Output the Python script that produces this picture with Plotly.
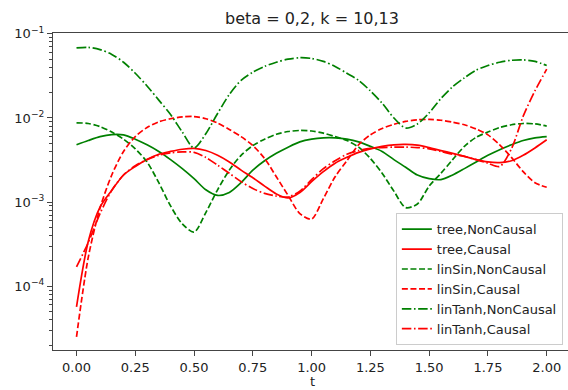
import plotly.graph_objects as go

t = [round(0.05 * i, 2) for i in range(41)]

tree_noncausal = [4.8e-3, 5.4e-3, 6.0e-3, 6.35e-3, 6.3e-3, 5.6e-3, 4.8e-3, 4.0e-3, 3.2e-3, 2.5e-3,
                  1.9e-3, 1.4e-3, 1.2e-3, 1.3e-3, 1.7e-3, 2.4e-3, 3.1e-3, 3.8e-3, 4.5e-3, 5.2e-3,
                  5.6e-3, 5.8e-3, 5.8e-3, 5.6e-3, 5.2e-3, 4.6e-3, 4.0e-3, 3.2e-3, 2.6e-3, 2.1e-3,
                  1.9e-3, 1.85e-3, 2.1e-3, 2.5e-3, 3.0e-3, 3.6e-3, 4.2e-3, 4.8e-3, 5.4e-3, 5.8e-3,
                  6.0e-3]
tree_causal = [5.7e-5, 3.4e-4, 8.7e-4, 1.38e-3, 2.1e-3, 2.65e-3, 3.2e-3, 3.7e-3, 4.0e-3, 4.25e-3,
               4.35e-3, 4.1e-3, 3.6e-3, 3.0e-3, 2.4e-3, 1.95e-3, 1.55e-3, 1.25e-3, 1.12e-3, 1.3e-3,
               1.75e-3, 2.3e-3, 2.9e-3, 3.4e-3, 3.9e-3, 4.3e-3, 4.6e-3, 4.8e-3, 4.85e-3, 4.75e-3,
               4.45e-3, 4.1e-3, 3.8e-3, 3.5e-3, 3.2e-3, 3.0e-3, 2.95e-3, 3.1e-3, 3.6e-3, 4.4e-3,
               5.5e-3]
linsin_noncausal = [8.75e-3, 8.6e-3, 7.9e-3, 6.8e-3, 5.6e-3, 4.3e-3, 3.0e-3, 1.7e-3, 9.0e-4, 5.5e-4,
                    4.4e-4, 7.5e-4, 1.4e-3, 2.4e-3, 3.6e-3, 4.7e-3, 5.6e-3, 6.4e-3, 6.9e-3, 7.1e-3,
                    7.0e-3, 6.6e-3, 6.0e-3, 5.4e-3, 4.5e-3, 3.3e-3, 2.2e-3, 1.35e-3, 8.6e-4, 9.5e-4,
                    1.55e-3, 2.2e-3, 3.2e-3, 4.6e-3, 5.9e-3, 6.8e-3, 7.7e-3, 8.3e-3, 8.6e-3, 8.5e-3,
                    8.0e-3]
linsin_causal = [2.5e-5, 2.2e-4, 8.5e-4, 2.1e-3, 4.0e-3, 6.0e-3, 7.7e-3, 9.0e-3, 9.8e-3, 1.03e-2,
                 1.04e-2, 9.8e-3, 8.7e-3, 7.3e-3, 6.0e-3, 4.7e-3, 3.3e-3, 2.0e-3, 1.2e-3, 7.3e-4,
                 6.3e-4, 1.1e-3, 2.0e-3, 3.1e-3, 4.8e-3, 6.3e-3, 7.5e-3, 8.4e-3, 9.1e-3, 9.5e-3,
                 9.6e-3, 9.4e-3, 8.9e-3, 8.3e-3, 7.4e-3, 6.3e-3, 4.8e-3, 3.4e-3, 2.3e-3, 1.7e-3,
                 1.5e-3]
lintanh_noncausal = [6.8e-2, 6.9e-2, 6.5e-2, 5.7e-2, 4.6e-2, 3.4e-2, 2.4e-2, 1.63e-2, 1.1e-2, 6.8e-3,
                     4.4e-3, 6.5e-3, 1.13e-2, 1.9e-2, 2.8e-2, 3.5e-2, 4.1e-2, 4.6e-2, 5.0e-2, 5.2e-2,
                     5.1e-2, 4.7e-2, 4.1e-2, 3.4e-2, 2.8e-2, 2.1e-2, 1.5e-2, 1.0e-2, 7.6e-3, 8.5e-3,
                     1.15e-2, 1.7e-2, 2.35e-2, 3.0e-2, 3.7e-2, 4.2e-2, 4.6e-2, 4.85e-2, 4.9e-2, 4.7e-2,
                     4.2e-2]
lintanh_causal = [1.7e-4, 3.3e-4, 7.3e-4, 1.38e-3, 2.1e-3, 2.7e-3, 3.2e-3, 3.6e-3, 3.85e-3, 3.95e-3,
                  3.9e-3, 3.4e-3, 2.75e-3, 2.2e-3, 1.75e-3, 1.45e-3, 1.27e-3, 1.18e-3, 1.15e-3, 1.35e-3,
                  1.85e-3, 2.5e-3, 3.1e-3, 3.7e-3, 4.1e-3, 4.35e-3, 4.45e-3, 4.5e-3, 4.5e-3, 4.45e-3,
                  4.3e-3, 4.0e-3, 3.7e-3, 3.5e-3, 3.2e-3, 2.9e-3, 2.65e-3, 4.3e-3, 1.05e-2, 2.1e-2,
                  3.8e-2]

series = [
    ("tree,NonCausal", tree_noncausal, "green", "solid"),
    ("tree,Causal", tree_causal, "red", "solid"),
    ("linSin,NonCausal", linsin_noncausal, "green", "6px,2.6px"),
    ("linSin,Causal", linsin_causal, "red", "6px,2.6px"),
    ("linTanh,NonCausal", lintanh_noncausal, "green", "9.5px,2.6px,1.6px,2.6px"),
    ("linTanh,Causal", lintanh_causal, "red", "9.5px,2.6px,1.6px,2.6px"),
]

major_y = [1e-4, 1e-3, 1e-2, 1e-1]
major_y_text = ["10<sup>\u22124</sup>", "10<sup>\u22123</sup>", "10<sup>\u22122</sup>", "10<sup>\u22121</sup>"]
minor_y = [m * 10.0 ** e for e in range(-5, -1) for m in range(2, 10)]

fig = go.Figure()
for name, vals, color, dash in series:
    fig.add_trace(go.Scatter(x=t, y=vals, mode="lines", name=name,
                             line=dict(color=color, width=1.7, dash=dash, shape="spline", smoothing=0.8)))

font = dict(family="DejaVu Sans", size=13, color="#222222")
fig.update_layout(
    width=568, height=390,
    margin=dict(l=53, r=0, t=33, b=40),
    paper_bgcolor="white", plot_bgcolor="white",
    font=font,
    showlegend=True,
    title=dict(text="beta = 0,2, k = 10,13", x=312 / 568, xref="container", xanchor="center",
               y=1 - 18 / 390, yref="container", yanchor="middle",
               font=dict(family="DejaVu Sans", size=16, color="#222222")),
    legend=dict(x=0.99, xanchor="right", y=0.015, yanchor="bottom",
                bgcolor="rgba(255,255,255,0.8)", bordercolor="#cccccc", borderwidth=1,
                font=dict(family="DejaVu Sans", size=13, color="#222222")),
    annotations=[dict(text="t", xref="paper", yref="paper", x=(312 - 53) / 515, y=-(381 - 350) / 317,
                      xanchor="center", yanchor="middle", showarrow=False,
                      font=dict(family="DejaVu Sans", size=13, color="#222222"))],
)
fig.update_xaxes(range=[-0.1, 2.0906], tickmode="array", tickvals=[0, 0.25, 0.5, 0.75, 1.0, 1.25, 1.5, 1.75, 2.0],
                 ticktext=["0.00", "0.25", "0.50", "0.75", "1.00", "1.25", "1.50", "1.75", "2.00"],
                 showgrid=False, zeroline=False, showline=True, linecolor="#444444", linewidth=1.2,
                 mirror=True, ticks="outside", ticklen=5, tickcolor="#444444")
fig.update_yaxes(type="log", range=[-4.758, -0.99], tickmode="array", tickvals=major_y, ticktext=major_y_text,
                 showgrid=False, zeroline=False, showline=True, linecolor="#444444", linewidth=1.2,
                 mirror=False, ticks="outside", ticklen=5, tickcolor="#444444",
                 minor=dict(tickmode="array", tickvals=minor_y, ticks="outside", ticklen=3,
                            tickcolor="#444444", showgrid=False))

fig.write_html("out.html")
